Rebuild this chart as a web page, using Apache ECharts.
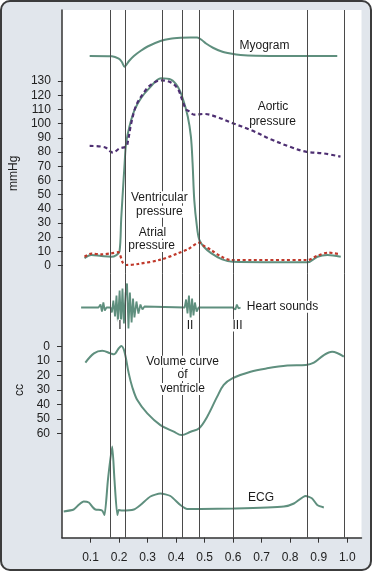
<!DOCTYPE html>
<html><head><meta charset="utf-8">
<script src="https://cdn.jsdelivr.net/npm/echarts@6/dist/echarts.min.js"></script>
<style>
html,body{margin:0;padding:0;background:#fff;}
#wrap{position:relative;width:372px;height:571px;}
#chart{position:absolute;left:0;top:0;width:372px;height:571px;background:#e1e6ec;border-radius:10px;overflow:hidden;}
#frame{position:absolute;left:0;top:0;width:372px;height:571px;box-sizing:border-box;border:2px solid #3c3c3c;border-radius:10px;pointer-events:none;}
</style></head><body>
<div id="wrap"><div id="chart"></div><div id="frame"></div></div>
<script>
// ---------- data (time in seconds) ----------
const timeTicks = [0.1,0.2,0.3,0.4,0.5,0.6,0.7,0.8,0.9,1.0];
const phaseLines = [0.174,0.218,0.346,0.419,0.480,0.597,0.856,0.995];

// myogram (arbitrary units)
const myogram = [[0.097,0],[0.175,-0.3],[0.199,-2.7],[0.210,-6],[0.219,-10.7],[0.235,-5],[0.252,0],[0.275,5],[0.300,9.5],[0.345,15],[0.380,17.3],[0.416,18.2],[0.450,18.6],[0.474,18.6],[0.490,16],[0.505,12.5],[0.531,8],[0.560,4.5],[0.591,2.5],[0.626,1],[0.680,0.2],[0.80,0],[0.965,0]];

// pressures (mmHg)
const ventricularPressure = [[0.076,5.2],[0.100,7.5],[0.135,6.8],[0.170,6.3],[0.188,7.5],[0.199,10],[0.205,33],[0.211,53],[0.217,72],[0.222,86],[0.234,98],[0.252,109.6],[0.275,118],[0.304,125],[0.345,132],[0.380,131],[0.404,126],[0.421,118],[0.439,105],[0.450,91],[0.456,72],[0.462,46],[0.471,28],[0.480,18],[0.497,13],[0.521,8.9],[0.560,4.5],[0.597,2.8],[0.860,2.4],[0.895,6.3],[0.930,7.5],[0.977,6.3]];
const aorticPressure = [[0.094,84.3],[0.147,83.4],[0.176,79.6],[0.199,82.5],[0.223,84],[0.229,88],[0.240,100],[0.258,113],[0.287,122.5],[0.310,127.5],[0.345,130.5],[0.380,129],[0.404,124.5],[0.419,117],[0.433,110],[0.445,108.5],[0.461,106.3],[0.497,106.8],[0.544,104.5],[0.597,100.3],[0.661,95.5],[0.731,89],[0.801,83.5],[0.854,80.3],[0.918,79],[0.976,76.8]];
const atrialPressure = [[0.076,6.3],[0.100,8.5],[0.135,8],[0.170,8.7],[0.194,9.5],[0.211,2],[0.223,0.5],[0.264,1.2],[0.345,4.3],[0.404,8.7],[0.439,11.5],[0.480,16.2],[0.496,14],[0.521,11],[0.556,6.5],[0.591,4],[0.860,4],[0.895,7],[0.934,9.2],[0.971,8.2]];

// heart sounds (arbitrary amplitude)
const heartSounds = [[0.067,0],[0.128,0],[0.135,3],[0.140,-4],[0.145,5],[0.150,-3],[0.156,0],[0.170,0],[0.175,-5],[0.180,7],[0.186,-9],[0.191,12],[0.196,-14],[0.202,17],[0.207,-18],[0.212,19],[0.217,-16],[0.223,14],[0.228,24],[0.233,-21],[0.238,15],[0.244,-15],[0.249,9],[0.254,-10],[0.261,6],[0.268,-6],[0.275,3],[0.282,-2],[0.289,1],[0.296,0],[0.430,0],[0.435,8],[0.440,-6],[0.445,12],[0.451,-10],[0.456,9],[0.461,-8],[0.466,5],[0.472,-4],[0.479,0],[0.598,0],[0.603,2],[0.608,-2],[0.613,3],[0.619,-1],[0.626,0]];

// ventricular volume (cc below reference)
const ventricularVolume = [[0.082,11],[0.112,4.6],[0.141,2.8],[0.170,4.6],[0.182,5.3],[0.199,1.1],[0.208,-0.5],[0.219,3.5],[0.234,18.5],[0.246,27.7],[0.264,37],[0.299,46.2],[0.345,54.3],[0.392,58.9],[0.419,61.2],[0.451,58.9],[0.481,56.5],[0.509,48.5],[0.544,34.6],[0.567,26.5],[0.597,21.9],[0.661,17.3],[0.719,15],[0.790,13.1],[0.855,12.7],[0.883,11.1],[0.918,5.8],[0.947,3.5],[0.988,6.9]];

// ECG (mV)
const ecg = [[0.006,-0.01],[0.041,0.03],[0.058,0.12],[0.076,0.19],[0.094,0.17],[0.107,0.08],[0.117,0.03],[0.135,0.02],[0.142,0],[0.149,-0.08],[0.161,0.62],[0.176,1.29],[0.184,0.62],[0.194,-0.08],[0.199,0.02],[0.211,0.01],[0.252,0.03],[0.275,0.12],[0.310,0.29],[0.345,0.35],[0.380,0.3],[0.415,0.12],[0.439,0.04],[0.486,0.04],[0.602,0.05],[0.778,0.09],[0.813,0.15],[0.854,0.30],[0.877,0.25],[0.895,0.12],[0.918,0.07]];

// labels
const annotations = [
  {text:'Myogram', x:264.5, y:45.7},
  {text:'Aortic', x:273, y:106.7},
  {text:'pressure', x:272.5, y:121.7},
  {text:'Ventricular', x:159.3, y:197.3},
  {text:'pressure', x:159.3, y:211.7},
  {text:'Atrial', x:152.5, y:232.7},
  {text:'pressure', x:151.7, y:246},
  {text:'Heart sounds', x:282.5, y:306.7},
  {text:'I', x:120, y:325.5},
  {text:'II', x:190, y:325.5},
  {text:'III', x:237.5, y:325.5},
  {text:'Volume curve', x:182.5, y:361.7},
  {text:'of', x:182.5, y:375},
  {text:'ventricle', x:182.5, y:389},
  {text:'ECG', x:261, y:497.3}
];

// ---------- chart ----------
const FONT = '"Liberation Sans", Arial, sans-serif';
const GREEN = '#5f8f7e';
const L = 62, R = 10.5;
const chart = echarts.init(document.getElementById('chart'), null, {renderer:'canvas'});

function xAx(i, show){
  return {gridIndex:i, type:'value', min:0, max:1.05, show: show,
    axisLine:{show:true, lineStyle:{color:'#333', width:1.5}},
    axisTick:{show:true, length:5, customValues:timeTicks, lineStyle:{color:'#333', width:1}},
    axisLabel:{show:true, customValues:timeTicks, fontSize:12, color:'#222', fontFamily:FONT, margin:14,
      formatter:v=>v.toFixed(1)},
    splitLine:{show:false}};
}
function hiddenY(i,min,max,inv){
  return {gridIndex:i, type:'value', min:min, max:max, show:false, inverse:!!inv, splitLine:{show:false}};
}
const nameStyle = {fontSize:12, color:'#222', fontFamily:FONT};

const option = {
  animation:false,
  backgroundColor:'transparent',
  grid:[
    {left:L, right:R, top:10, bottom:33.3, show:true, backgroundColor:'#ffffff', borderWidth:0},
    {left:L, right:R, top:81, height:184.7},
    {left:L, right:R, top:346.7, height:86.6},
    {left:L, right:R, top:36, height:20},
    {left:L, right:R, top:287.5, height:40},
    {left:L, right:R, top:441, height:70}
  ],
  xAxis:[xAx(0,true), xAx(1,false), xAx(2,false), xAx(3,false), xAx(4,false), xAx(5,false)],
  yAxis:[
    {gridIndex:0, type:'value', min:0, max:1, axisLine:{show:true, lineStyle:{color:'#333', width:1.5}}, axisTick:{show:false}, axisLabel:{show:false}, splitLine:{show:false}},
    {gridIndex:1, type:'value', min:0, max:130, interval:10, axisLine:{show:false},
      axisTick:{show:true, length:5, lineStyle:{color:'#333'}},
      axisLabel:{fontSize:12, color:'#222', fontFamily:FONT, margin:12},
      splitLine:{show:false}, name:'mmHg', nameLocation:'middle', nameRotate:90, nameGap:34, nameTextStyle:nameStyle},
    {gridIndex:2, type:'value', min:0, max:60, interval:10, inverse:true, axisLine:{show:false},
      axisTick:{show:true, length:5, lineStyle:{color:'#333'}},
      axisLabel:{fontSize:12, color:'#222', fontFamily:FONT, margin:12},
      splitLine:{show:false}, name:'cc', nameLocation:'middle', nameRotate:90, nameGap:34, nameTextStyle:nameStyle},
    hiddenY(3,0,20),
    hiddenY(4,-20,20),
    hiddenY(5,0,1.4)
  ],
  series:[
    {type:'line', xAxisIndex:0, yAxisIndex:0, data:[], z:1, silent:true,
      markLine:{silent:true, symbol:'none', label:{show:false},
        lineStyle:{color:'#4a4a4a', width:1, type:'solid'},
        data: phaseLines.map(v=>({xAxis:v}))}},
    {name:'Myogram', type:'line', xAxisIndex:3, yAxisIndex:3, data:myogram, smooth:0.25, showSymbol:false, clip:false, z:3,
      lineStyle:{color:GREEN, width:2}},
    {name:'Ventricular pressure', type:'line', xAxisIndex:1, yAxisIndex:1, data:ventricularPressure, smooth:0.35, showSymbol:false, clip:false, z:3,
      lineStyle:{color:GREEN, width:2}},
    {name:'Atrial pressure', type:'line', xAxisIndex:1, yAxisIndex:1, data:atrialPressure, smooth:0.3, showSymbol:false, clip:false, z:4,
      lineStyle:{color:'#c0392b', width:2.2, type:[3,2.5]}},
    {name:'Aortic pressure', type:'line', xAxisIndex:1, yAxisIndex:1, data:aorticPressure, smooth:0.35, showSymbol:false, clip:false, z:4,
      lineStyle:{color:'#4e2f72', width:2.2, type:[4,3]}},
    {name:'Heart sounds', type:'line', xAxisIndex:4, yAxisIndex:4, data:heartSounds, smooth:false, showSymbol:false, clip:false, z:3,
      lineStyle:{color:GREEN, width:1.8}},
    {name:'Volume', type:'line', xAxisIndex:2, yAxisIndex:2, data:ventricularVolume, smooth:0.35, showSymbol:false, clip:false, z:3,
      lineStyle:{color:GREEN, width:2}},
    {name:'ECG', type:'line', xAxisIndex:5, yAxisIndex:5, data:ecg, smooth:0.2, showSymbol:false, clip:false, z:3,
      lineStyle:{color:GREEN, width:2}}
  ],
  graphic: annotations.map(a=>({type:'text', x:a.x, y:a.y, z:100,
    style:{text:a.text, fill:'#1a1a1a', font:'12px ' + FONT, textAlign:'center', textVerticalAlign:'middle',
      backgroundColor:'#ffffff', padding:[0,1]}}))
};
chart.setOption(option);
</script>
</body></html>
